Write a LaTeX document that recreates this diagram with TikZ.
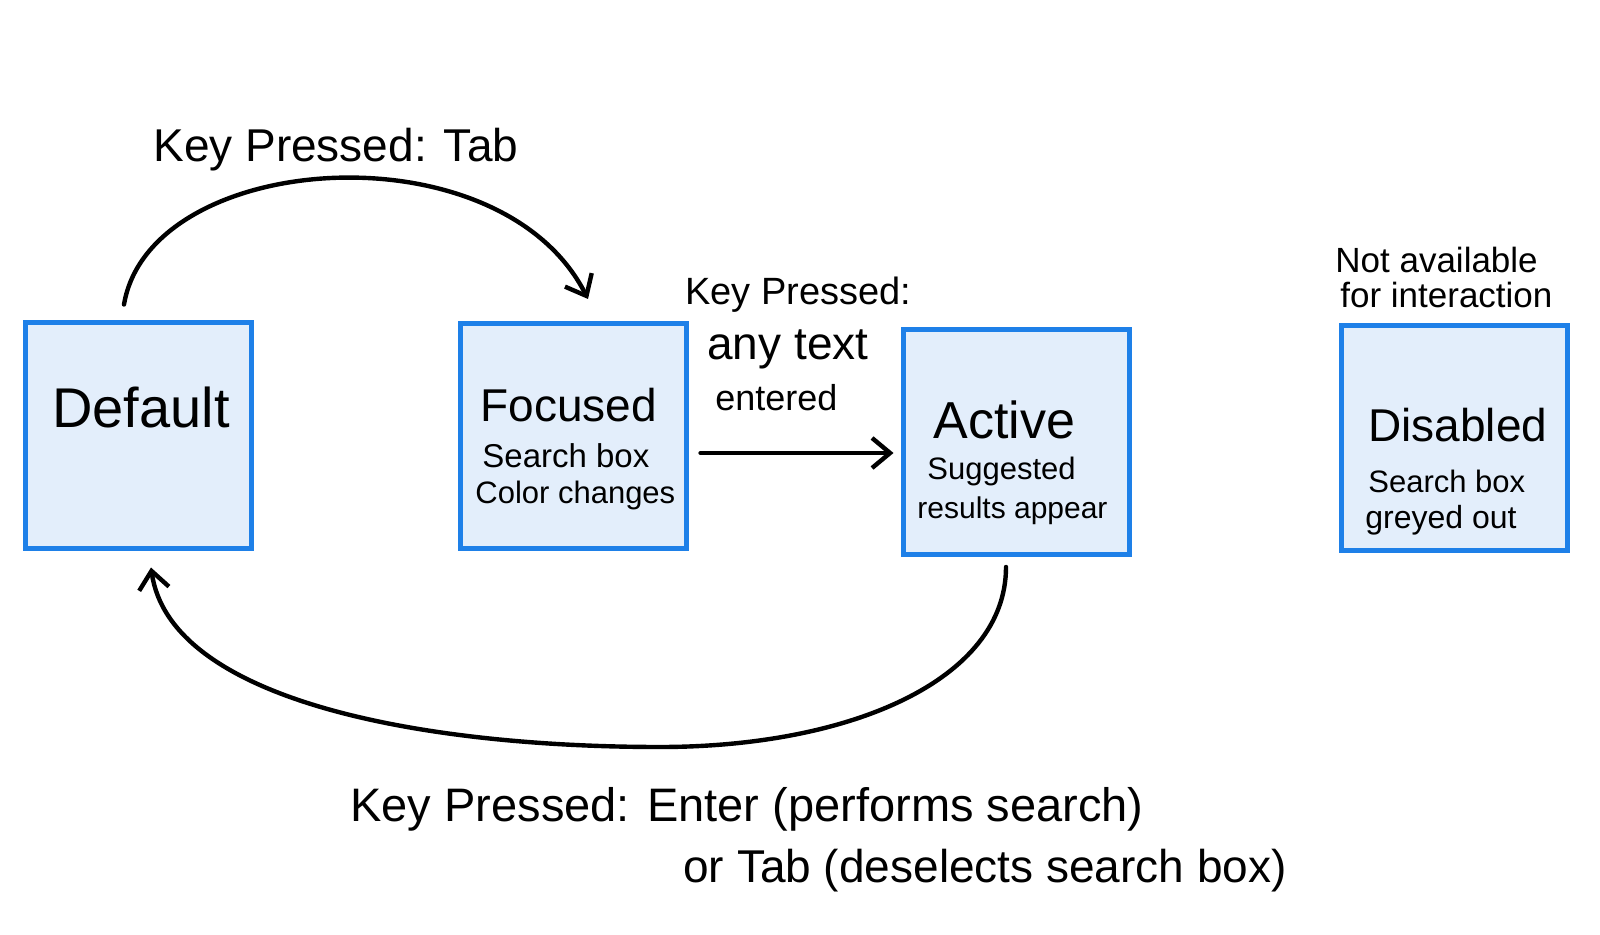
\documentclass[tikz,border=0pt]{standalone}
\usepackage{fontspec}
\setmainfont{Liberation Sans}
\usetikzlibrary{arrows.meta,calc}
\definecolor{boxfill}{HTML}{E3EEFB}
\definecolor{boxline}{HTML}{1E80E8}
\begin{document}
\begin{tikzpicture}[x=0.5pt,y=-0.5pt,
  statebox/.style={draw=boxline,fill=boxfill,line width=2.5pt,minimum width=113pt,minimum height=112.5pt,inner sep=0pt},
  lbl/.style={anchor=base west,inner sep=0pt},
  ttl/.style={lbl,font=\fontsize{#1}{#1}\selectfont},
  conn/.style={line width=2.2pt,line cap=round,-{Straight Barb[length=9pt,width=15pt,line width=2.2pt]}}]
\fill[white] (0,0) rectangle (1600,935);
\useasboundingbox (0,0) rectangle (1600,935);

% state boxes
\node[statebox] (default) at (138,435.5) {};
\node[statebox] (focused) at (573,436) {};
\node[statebox] (active) at (1016,442) {};
\node[statebox] (disabled) at (1454.5,438) {};

% box texts
\node[ttl=28] (tdefault) at (52,428) {Default};
\node[ttl=23] (tfocused) at (480,422) {Focused};
\node[ttl=16.5] (sfocused1) at (482,467) {Search box};
\node[ttl=15.5] (sfocused2) at (475,503) {Color changes};
\node[ttl=26] (tactive) at (933,438) {Active};
\node[ttl=15.5] (sactive1) at (927,480) {Suggested};
\node[ttl=15] (sactive2) at (917,518) {results appear};
\node[ttl=23] (tdisabled) at (1368,442) {Disabled};
\node[ttl=15.5] (sdisabled1) at (1368,492) {Search box};
\node[ttl=16] (sdisabled2) at (1365,528) {greyed out};
\node[ttl=17.5] (ndisabled1) at (1335,273) {Not available};
\node[ttl=17.5] (ndisabled2) at (1340,308) {for interaction};

% connector labels
\node[ttl=23] (ltab) at (153,162) {Key Pressed: Tab};
\node[ttl=19] (lany1) at (685,305) {Key Pressed:};
\node[ttl=23] (lany2) at (707,360) {any text};
\node[ttl=18] (lany3) at (715,410) {entered};
\node[ttl=23.5] (lenter1) at (350,821) {Key Pressed: Enter (performs search)};
\node[ttl=23] (lenter2) at (683,882) {or Tab (deselects search box)};

% connector end points
\coordinate (c1s) at ($(default.north)+(-14,-16)$);
\coordinate (c1e) at ($(focused.north)+(15,-22)$);
\coordinate (c2s) at ($(focused.east)+(12,17)$);
\coordinate (c2e) at ($(active.west)+(-7,11)$);
\coordinate (c3s) at ($(active.south)+(-10,10)$);
\coordinate (c3e) at ($(default.south)+(13,17)$);

% connectors
\draw[conn] (c1s) .. controls (150,150) and (500,125) .. (c1e);
\draw[conn] (c2s) -- (c2e);
\draw[conn] (c3s) .. controls (1006,680) and (850,747) .. (660,747)
  .. controls (420,747) and (170,700) .. (c3e);
\end{tikzpicture}
\end{document}
